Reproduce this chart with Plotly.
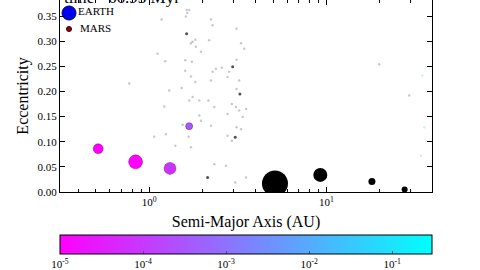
import plotly.graph_objects as go

# Planets coloured by mass (log10 of mass in colorbar units)
col_a = [0.515, 0.837, 1.31, 1.68]
col_e = [0.086, 0.060, 0.047, 0.131]
col_logm = [-5.0, -5.0, -4.1, -3.45]
col_size = [10, 14, 12, 7]

# Giant planets (above colour range, drawn black)
big_a = [5.13, 9.25, 18.1, 27.7]
big_e = [0.017, 0.034, 0.021, 0.005]
big_size = [26, 14, 7, 6]

# Small particles (gray)
dot_a = [1.626, 1.683, 1.174, 1.611, 2.23, 2.28, 3.11, 1.82, 1.758, 1.72, 2.18, 1.835,
         3.30, 3.44, 1.114, 1.96, 1.597, 1.742, 1.231, 3.11, 2.38, 2.57, 2.83, 2.77,
         1.597, 1.72, 2.28, 2.23, 1.82, 3.22, 3.11, 1.297, 1.523, 1.758, 1.917, 1.683,
         2.16, 2.33, 1.215, 2.93, 3.09, 3.52, 3.22, 3.37, 2.77, 1.917, 1.96, 1.742,
         1.543, 2.23, 3.11, 3.30, 2.77, 2.93, 1.242, 1.067, 1.668, 1.403, 1.72, 2.33,
         2.71, 3.06, 3.52, 0.77, 1.64, 19.9, 29.4]
dot_e = [0.362, 0.362, 0.343, 0.349, 0.343, 0.332, 0.325, 0.303, 0.299, 0.296, 0.302, 0.289,
         0.296, 0.285, 0.275, 0.279, 0.262, 0.259, 0.260, 0.263, 0.245, 0.247, 0.239, 0.229,
         0.241, 0.230, 0.239, 0.222, 0.219, 0.222, 0.205, 0.202, 0.207, 0.189, 0.182, 0.182,
         0.182, 0.169, 0.170, 0.175, 0.169, 0.165, 0.162, 0.149, 0.155, 0.152, 0.142, 0.132,
         0.134, 0.132, 0.129, 0.125, 0.112, 0.102, 0.115, 0.110, 0.110, 0.092, 0.089, 0.055,
         0.052, 0.019, 0.029, 0.216, 0.356, 0.254, 0.192]

# Darker particles
dark_a = [1.626, 2.96, 3.25, 3.06, 2.136]
dark_e = [0.315, 0.249, 0.195, 0.109, 0.029]

# Faint cyan particles near outer edge
cy_a = [35.8, 34.3, 34.9]
cy_e = [0.129, 0.072, 0.232]

cb_tickvals = [-5, -4, -3, -2, -1]
cb_ticktext = ["10<sup>-5</sup>", "10<sup>-4</sup>", "10<sup>-3</sup>", "10<sup>-2</sup>", "10<sup>-1</sup>"]

FONT = "Liberation Serif"

fig = go.Figure()
fig.add_trace(go.Scatter(x=dot_a, y=dot_e, mode="markers", showlegend=False,
                         marker=dict(size=2.5, opacity=1, color="rgba(120,120,120,0.4)", line=dict(width=0))))
fig.add_trace(go.Scatter(x=cy_a, y=cy_e, mode="markers", showlegend=False,
                         marker=dict(size=2.5, opacity=1, color="rgba(120,210,210,0.35)", line=dict(width=0))))
fig.add_trace(go.Scatter(x=dark_a, y=dark_e, mode="markers", showlegend=False,
                         marker=dict(size=3, opacity=1, color="rgba(50,50,50,0.85)", line=dict(width=0))))
fig.add_trace(go.Scatter(x=big_a, y=big_e, mode="markers", showlegend=False,
                         marker=dict(size=big_size, opacity=1, color="#000000", line=dict(width=0))))
fig.add_trace(go.Scatter(
    x=col_a, y=col_e, mode="markers", showlegend=False,
    marker=dict(size=col_size, opacity=1, color=col_logm, cmin=-5, cmax=-0.52,
                colorscale=[[0, "#ff00ff"], [1, "#00ffff"]],
                line=dict(width=0.8, color="rgba(80,0,80,0.45)"),
                showscale=True,
                colorbar=dict(orientation="h", xref="paper", yref="container",
                              x=0.5, xanchor="center", y=(270 - 235) / 270, yanchor="top",
                              len=372, lenmode="pixels", thickness=19, thicknessmode="pixels",
                              xpad=0, ypad=0, outlinewidth=1, outlinecolor="black",
                              tickvals=cb_tickvals, ticktext=cb_ticktext,
                              ticks="inside", ticklen=3, tickcolor="#555",
                              tickfont=dict(family=FONT, size=11, color="black"))),
))

ax_common = dict(showline=True, linecolor="black", linewidth=1, mirror="ticks",
                 ticks="inside", tickcolor="black", showgrid=False, zeroline=False,
                 tickfont=dict(family=FONT, size=11, color="black"))

fig.update_xaxes(type="log", range=[-0.504, 1.597], tickvals=[1, 10],
                 ticktext=["10<sup>0</sup>", "10<sup>1</sup>"], ticklen=5,
                 tickfont=dict(family=FONT, size=11, color="black"),
                 minor=dict(ticks="inside", ticklen=3, tickcolor="black",
                            tickvals=[0.4, 0.5, 0.6, 0.7, 0.8, 0.9, 2, 3, 4, 5, 6, 7, 8, 9, 20, 30]),
                 title=dict(text="Semi-Major Axis (AU)", standoff=8,
                            font=dict(family=FONT, size=16, color="black")),
                 showline=True, linecolor="black", linewidth=1, mirror="ticks",
                 ticks="inside", tickcolor="black", showgrid=False, zeroline=False)
fig.update_yaxes(range=[0, 0.382], tickvals=[0, 0.05, 0.1, 0.15, 0.2, 0.25, 0.3, 0.35],
                 ticktext=["0.00", "0.05", "0.10", "0.15", "0.20", "0.25", "0.30", "0.35"],
                 ticklen=5,
                 title=dict(text="Eccentricity", standoff=4,
                            font=dict(family=FONT, size=16, color="black")),
                 **ax_common)

# Legend drawn by hand
fig.add_shape(type="circle", xref="paper", yref="paper", xsizemode="pixel", ysizemode="pixel",
              xanchor=9 / 372, yanchor=1 - 13 / 192, x0=-7, x1=7, y0=-7, y1=7,
              fillcolor="#0000f0", line=dict(color="#000060", width=1))
fig.add_shape(type="circle", xref="paper", yref="paper", xsizemode="pixel", ysizemode="pixel",
              xanchor=9 / 372, yanchor=1 - 29 / 192, x0=-2.5, x1=2.5, y0=-2.5, y1=2.5,
              fillcolor="#990000", line=dict(color="#300000", width=1))
fig.add_annotation(text="EARTH", xref="paper", yref="paper", x=16 / 372, y=1 - 11 / 192,
                   xanchor="left", yanchor="middle", showarrow=False,
                   font=dict(family=FONT, size=11, color="black"))
fig.add_annotation(text="MARS", xref="paper", yref="paper", x=18 / 372, y=1 - 28 / 192,
                   xanchor="left", yanchor="middle", showarrow=False,
                   font=dict(family=FONT, size=11, color="black"))
fig.add_annotation(text="time= 66.93 Myr", xref="paper", yref="paper", x=2 / 372, y=1,
                   xanchor="left", yanchor="bottom", yshift=-9, showarrow=False,
                   font=dict(family=FONT, size=17, color="black"))

fig.update_layout(width=480, height=270,
                  margin=dict(l=60, r=48, t=0, b=78, autoexpand=False),
                  paper_bgcolor="white", plot_bgcolor="white")
fig.write_html("out.html")
